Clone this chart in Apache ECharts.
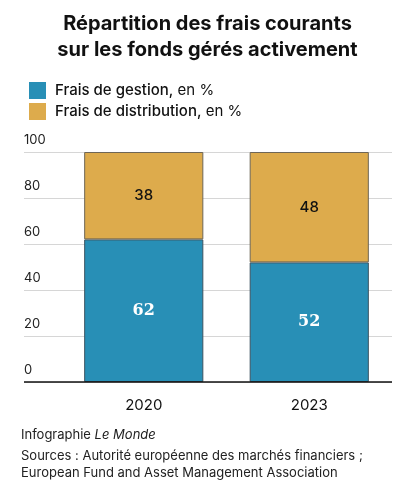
<!DOCTYPE html>
<html>
<head>
<meta charset="utf-8">
<script src="https://cdn.jsdelivr.net/npm/echarts@6/dist/echarts.min.js"></script>
<style>
  html, body { margin: 0; padding: 0; background: #fff; }
  #chart { width: 415px; height: 500px; }
</style>
</head>
<body>
<div id="chart"></div>
<script>
const years = ['2020', '2023']
const gestion = [62, 52]
const distribution = [38, 48]
const yTicks = [0, 20, 40, 60, 80, 100]

const font = 'Inter, "Noto Sans", sans-serif'
const myChart = echarts.init(document.getElementById('chart'), null, { renderer: 'canvas' })

const option = {
  backgroundColor: '#fff',
  animation: false,
  textStyle: { fontFamily: font },
  title: {
    text: 'Répartition des frais courants\nsur les fonds gérés activement',
    left: 'center',
    top: 6,
    textStyle: {
      fontFamily: font,
      fontSize: 20,
      fontWeight: 'bold',
      color: '#111',
      lineHeight: 26
    }
  },
  legend: {
    left: 24,
    top: 77,
    orient: 'vertical',
    itemWidth: 17,
    itemHeight: 17,
    itemGap: 4,
    icon: 'rect',
    selectedMode: false,
    itemStyle: { borderWidth: 0 },
    formatter: function (name) {
      const parts = name.split(',')
      return '{b|' + parts[0] + ',}{r|' + parts[1] + '}'
    },
    textStyle: {
      padding: [0, 0, 0, 4],
      rich: {
        b: { fontFamily: font, fontSize: 15, fontWeight: 500, color: '#111' },
        r: { fontFamily: font, fontSize: 15, color: '#111' }
      }
    },
    data: ['Frais de gestion, en %', 'Frais de distribution, en %']
  },
  grid: [
    // grille de fond : lignes de repère sur toute la largeur
    { left: 24, right: 23, top: 152, bottom: 118 },
    // grille des barres
    { left: 61, right: 23, top: 152, bottom: 118 }
  ],
  xAxis: [
    {
      gridIndex: 0,
      type: 'value',
      min: 0,
      max: 1,
      show: false
    },
    {
      gridIndex: 1,
      type: 'category',
      data: years,
      axisLine: { show: false },
      axisTick: { show: false },
      axisLabel: {
        margin: 16,
        fontSize: 15,
        color: '#111',
        fontFamily: font
      }
    }
  ],
  yAxis: [
    {
      gridIndex: 0,
      type: 'value',
      min: yTicks[0],
      max: yTicks[yTicks.length - 1],
      interval: 20,
      axisLine: { show: false },
      axisTick: { show: false },
      axisLabel: {
        inside: true,
        align: 'left',
        verticalAlign: 'bottom',
        margin: 0,
        padding: [0, 0, 5, 0],
        fontSize: 13,
        color: '#222',
        fontFamily: font
      },
      splitLine: {
        lineStyle: { color: '#d6d6d6', width: 1 }
      }
    },
    {
      gridIndex: 1,
      type: 'value',
      min: 0,
      max: 100,
      interval: 20,
      show: false,
      splitLine: { show: false }
    }
  ],
  series: [
    {
      name: 'Frais de gestion, en %',
      type: 'bar',
      stack: 'frais',
      xAxisIndex: 1,
      yAxisIndex: 1,
      barWidth: '72%',
      data: gestion,
      itemStyle: { color: '#288fb6', borderColor: '#3d5360', borderWidth: 1 },
      label: {
        show: true,
        position: 'inside',
        color: '#fff',
        fontSize: 16,
        fontWeight: 'bold',
        fontFamily: '"DejaVu Serif", serif'
      }
    },
    {
      name: 'Frais de distribution, en %',
      type: 'bar',
      stack: 'frais',
      xAxisIndex: 1,
      yAxisIndex: 1,
      barWidth: '72%',
      data: distribution,
      itemStyle: { color: '#ddab4c', borderColor: '#6e6656', borderWidth: 1 },
      label: {
        show: true,
        position: 'inside',
        color: '#111',
        fontSize: 15,
        fontWeight: 500,
        fontFamily: font
      }
    },
    {
      // ligne de base noire
      type: 'line',
      xAxisIndex: 0,
      yAxisIndex: 0,
      data: [],
      silent: true,
      markLine: {
        symbol: 'none',
        silent: true,
        label: { show: false },
        lineStyle: { color: '#111', width: 1.5, type: 'solid' },
        data: [{ yAxis: 0 }]
      }
    }
  ],
  graphic: [
    {
      type: 'text',
      left: 21,
      top: 429,
      style: {
        text: '{r|Infographie }{i|Le Monde}',
        rich: {
          r: { fontFamily: font, fontSize: 13, fill: '#222' },
          i: { fontFamily: font, fontSize: 13, fontStyle: 'italic', fill: '#222' }
        }
      }
    },
    {
      type: 'text',
      left: 21,
      top: 448,
      style: {
        text: 'Sources : Autorité européenne des marchés financiers ;\nEuropean Fund and Asset Management Association',
        fontFamily: font,
        fontSize: 13,
        lineHeight: 17,
        fill: '#222'
      }
    }
  ]
}

myChart.setOption(option)
</script>
</body>
</html>
